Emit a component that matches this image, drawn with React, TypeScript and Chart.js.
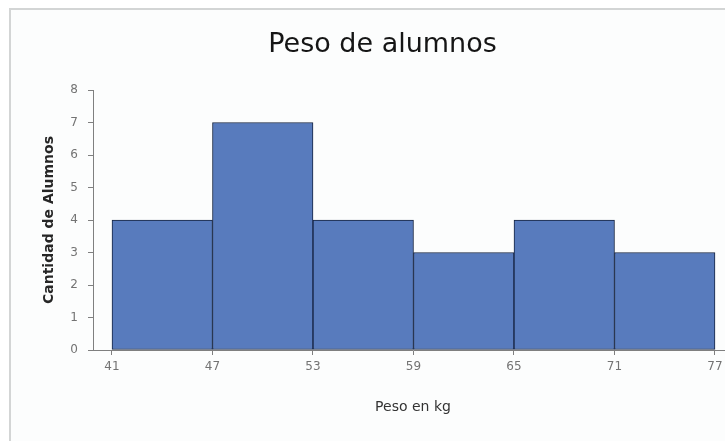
import { useEffect, useRef } from "react";
import { Chart, registerables } from "chart.js";

Chart.register(...registerables);

const chartTitle = "Peso de alumnos";
const xAxisTitle = "Peso en kg";
const yAxisTitle = "Cantidad de Alumnos";
const binEdges = [41, 47, 53, 59, 65, 71, 77];
const counts = [4, 7, 4, 3, 4, 3];
const yTicks = [0, 1, 2, 3, 4, 5, 6, 7, 8];

export default function App() {
  const ref = useRef<HTMLCanvasElement>(null);

  useEffect(() => {
    const canvas = ref.current;
    if (!canvas) return;
    const points = counts.map((c, i) => ({ x: (binEdges[i] + binEdges[i + 1]) / 2, y: c }));
    const tickFont = { family: "DejaVu Sans", size: 12 };
    const chart = new Chart(canvas, {
      type: "bar",
      data: {
        datasets: [
          {
            data: points,
            backgroundColor: "#587bbd",
            borderColor: "#14223f",
            borderWidth: 1,
            borderSkipped: false,
            barPercentage: 1,
            categoryPercentage: 1,
          },
        ],
      },
      options: {
        responsive: false,
        animation: false,
        layout: { padding: 0 },
        plugins: {
          legend: { display: false },
          tooltip: { enabled: false },
          title: {
            display: true,
            text: chartTitle,
            color: "#151515",
            font: { family: "DejaVu Sans", size: 27, weight: "normal" },
            padding: { top: 19, bottom: 28.6 },
          },
        },
        scales: {
          x: {
            type: "linear",
            min: 39.866,
            max: 78.075,
            offset: false,
            grid: {
              display: true,
              drawOnChartArea: false,
              drawTicks: true,
              tickLength: 5,
              color: "#7f7f7f",
              offset: false,
            },
            border: { display: true, color: "#7f7f7f", width: 1 },
            ticks: {
              color: "#737373",
              font: tickFont,
              padding: 5,
              maxRotation: 0,
              autoSkip: false,
            },
            title: {
              display: true,
              text: xAxisTitle,
              color: "#333333",
              font: { family: "DejaVu Sans", size: 14 },
              padding: { top: 0, bottom: 25 },
            },
            afterBuildTicks: (s: any) => {
              s.ticks = binEdges.map((v) => ({ value: v }));
            },
            afterFit: (s: any) => {
              s.height = 91;
              s.paddingLeft = 0;
              s.paddingRight = 21;
            },
          },
          y: {
            type: "linear",
            min: 0,
            max: 8,
            grid: {
              display: true,
              drawOnChartArea: false,
              drawTicks: true,
              tickLength: 5,
              color: "#7f7f7f",
            },
            border: { display: true, color: "#7f7f7f", width: 1 },
            ticks: { color: "#737373", font: tickFont, padding: 10 },
            title: {
              display: true,
              text: yAxisTitle,
              color: "#262626",
              font: { family: "DejaVu Sans", size: 14, weight: "bold" },
              padding: { top: 30, bottom: 0 },
            },
            afterBuildTicks: (s: any) => {
              s.ticks = yTicks.map((v) => ({ value: v }));
            },
            afterFit: (s: any) => {
              s.width = 82;
            },
          },
        },
      },
    } as any);
    return () => chart.destroy();
  }, []);

  return (
    <div
      style={{
        position: "fixed",
        left: 8,
        top: 8,
        width: 717,
        height: 433,
        overflow: "hidden",
      }}
    >
      <div
        style={{
          position: "absolute",
          left: 1,
          top: 0,
          width: 800,
          height: 500,
          border: "2px solid #d3d5d5",
          background: "#fcfdfd",
          boxSizing: "border-box",
        }}
      />
      <canvas
        ref={ref}
        width={743}
        height={431}
        style={{ position: "absolute", left: 3, top: 2, width: 743, height: 431 }}
      />
    </div>
  );
}
